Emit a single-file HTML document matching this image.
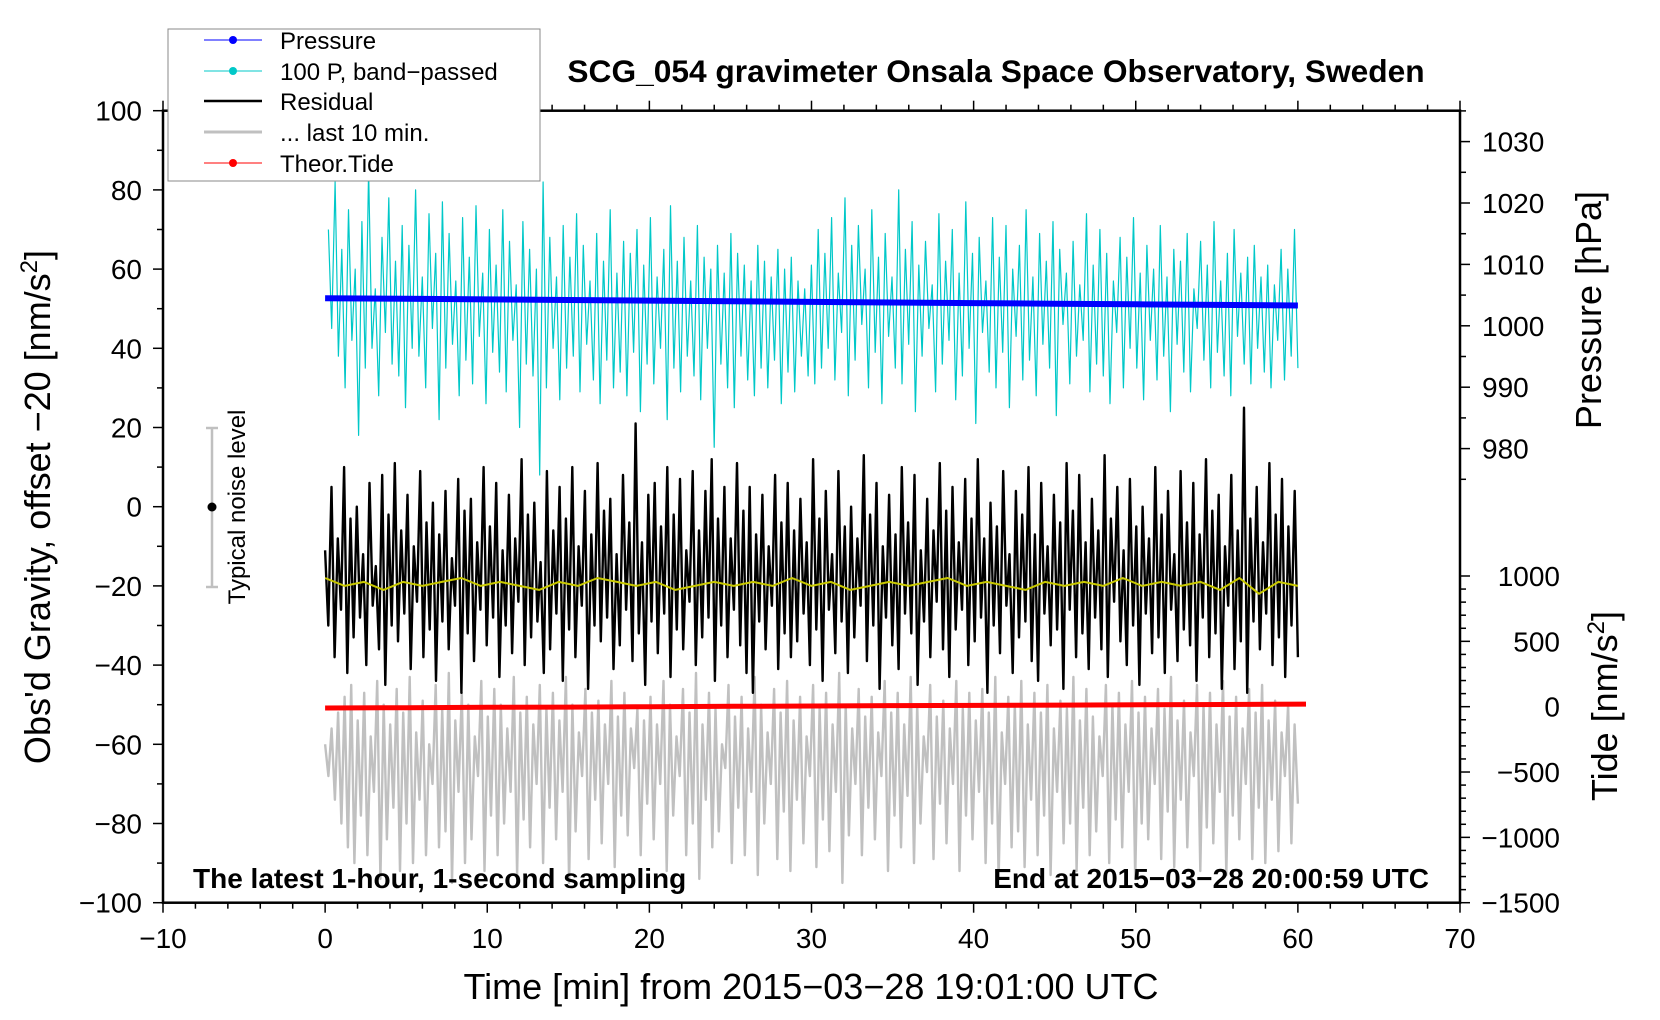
<!DOCTYPE html>
<html><head><meta charset="utf-8"><style>
body{margin:0;background:#fff;}
svg{display:block;font-family:"Liberation Sans",sans-serif;}
</style></head><body>
<svg id="chart" width="1660" height="1020" viewBox="0 0 1660 1020" xmlns="http://www.w3.org/2000/svg">
<g id="layer-gray"></g>
<g id="layer-cyan"></g>
<g id="layer-black"></g>
<g id="layer-yellow"></g>
<g id="layer-blue"></g>
<g id="layer-red"></g>
<g id="axes"></g>
<text x="996" y="82" font-size="31.7" font-weight="bold" text-anchor="middle">SCG_054 gravimeter Onsala Space Observatory, Sweden</text>
<text x="193" y="888" font-size="28" font-weight="bold">The latest 1-hour, 1-second sampling</text>
<text x="1429" y="888" font-size="28" font-weight="bold" text-anchor="end">End at 2015−03−28 20:00:59 UTC</text>
<text x="811" y="999" font-size="36" text-anchor="middle">Time [min] from 2015−03−28 19:01:00 UTC</text>
<text transform="translate(50,507) rotate(-90)" font-size="36" text-anchor="middle">Obs'd Gravity, offset −20 [nm/s<tspan font-size="24" dy="-13">2</tspan><tspan dy="13">]</tspan></text>
<text transform="translate(1601,310) rotate(-90)" font-size="36" text-anchor="middle">Pressure [hPa]</text>
<text transform="translate(1617,706) rotate(-90)" font-size="36" text-anchor="middle">Tide [nm/s<tspan font-size="24" dy="-13">2</tspan><tspan dy="13">]</tspan></text>
<g>
<line x1="212" y1="428" x2="212" y2="587" stroke="#c0c0c0" stroke-width="2.5"/>
<line x1="206" y1="428" x2="218" y2="428" stroke="#c0c0c0" stroke-width="2.5"/>
<line x1="206" y1="587" x2="218" y2="587" stroke="#c0c0c0" stroke-width="2.5"/>
<circle cx="212" cy="507" r="4.5" fill="#000"/>
<text transform="translate(245,507) rotate(-90)" font-size="24" text-anchor="middle">Typical noise level</text>
</g>
<g>
<rect x="168" y="29" width="372" height="152" fill="#fff" stroke="#888" stroke-width="1"/>
<g><line x1="204" y1="40" x2="262" y2="40" stroke="#0000ff" stroke-width="1"/><circle cx="233" cy="40" r="4" fill="#0000ff"/><text x="280" y="49" font-size="24">Pressure</text></g>
<g><line x1="204" y1="71" x2="262" y2="71" stroke="#00c8c8" stroke-width="1"/><circle cx="233" cy="71" r="4" fill="#00c8c8"/><text x="280" y="80" font-size="24">100 P, band−passed</text></g>
<g><line x1="204" y1="101" x2="262" y2="101" stroke="#000" stroke-width="2.5"/><text x="280" y="110" font-size="24">Residual</text></g>
<g><line x1="204" y1="132" x2="262" y2="132" stroke="#c0c0c0" stroke-width="3"/><text x="280" y="141" font-size="24">... last 10 min.</text></g>
<g><line x1="204" y1="163" x2="262" y2="163" stroke="#ff0000" stroke-width="1"/><circle cx="233" cy="163" r="4" fill="#ff0000"/><text x="280" y="172" font-size="24">Theor.Tide</text></g>
</g>
</svg>
<script>
const xTicks=[-10,0,10,20,30,40,50,60,70];
const gTicks=[100,80,60,40,20,0,-20,-40,-60,-80,-100];
const pTicks=[1030,1020,1010,1000,990,980];
const tTicks=[1000,500,0,-500,-1000,-1500];
const residual=[-11,-30,5,-38,-8,-26,10,-42,-3,-33,0,-28,-12,-40,6,-25,-15,-36,8,-45,-2,-30,11,-34,-6,-27,3,-41,-10,-24,9,-38,-4,-31,1,-44,-7,-29,4,-36,-13,-25,7,-47,-1,-32,2,-39,-9,-26,10,-35,-5,-28,6,-43,-11,-30,3,-37,-8,-24,12,-40,-2,-33,1,-29,-14,-42,9,-36,-6,-27,5,-44,-3,-31,10,-38,-10,-25,4,-46,-7,-30,11,-34,-1,-28,2,-41,-12,-35,8,-26,-4,-39,21,-32,-9,-45,3,-29,6,-37,-5,-27,10,-43,-2,-31,7,-36,-11,-24,9,-40,-6,-33,4,-28,12,-44,-3,-30,5,-38,-8,-26,11,-35,-1,-42,5,-47,-7,-29,3,-36,-10,-25,8,-41,-4,-32,6,-38,
-6,-34,2,-27,-9,-40,12,-31,-3,-44,4,-26,-12,-37,9,-29,-5,-42,0,-33,-8,-25,13,-39,-2,-30,6,-46,-10,-28,3,-35,-7,-41,10,-27,-4,-32,8,-45,-11,-29,2,-38,-6,-24,11,-36,-1,-43,5,-31,-9,-26,7,-40,-3,-34,12,-28,-8,-47,1,-30,-5,-37,9,-25,-12,-42,4,-33,-2,-29,10,-39,-7,-44,6,-27,-10,-35,3,-31,-4,-46,11,-26,-1,-38,8,-32,-9,-41,2,-28,-6,-36,13,-43,-3,-24,5,-34,-11,-40,7,-30,-5,-45,0,-27,-8,-37,10,-33,-2,-42,4,-26,-12,-39,9,-31,-4,-35,6,-44,-7,-28,12,-38,-1,-32,3,-46,-10,-25,8,-41,-6,-34,25,-47,-3,-29,5,-36,-9,-27,11,-40,-2,-33,7,-43,-5,-30,4,-38];
const smoothed=[-18,-20,-19,-21,-19,-20,-19,-18,-20,-19,-20,-21,-19,-20,-18,-19,-20,-19,-21,-20,-19,-20,-19,-20,-18,-20,-19,-21,-20,-19,-20,-19,-18,-20,-19,-20,-21,-19,-20,-19,-20,-18,-20,-19,-20,-19,-21,-18,-22,-19,-20];
const bandPassed=[70,45,82,38,65,30,75,42,60,18,72,35,85,40,55,28,68,44,78,36,62,33,71,25,66,40,80,38,58,30,74,45,64,22,77,35,69,41,57,28,73,37,63,31,76,43,59,26,70,39,61,34,75,29,67,42,56,20,72,36,65,33,60,8,82,30,68,40,58,27,71,35,63,38,74,29,66,41,57,32,69,26,62,37,75,30,59,34,67,28,64,39,70,24,61,36,73,31,58,40,65,22,76,35,62,29,68,38,57,33,71,27,63,40,60,15,66,36,59,30,69,25,64,38,61,32,57,28,66,35,62,30,58,37,65,26,60,34,63,29,57,38,55,33,61,31,70,35,
64,40,73,32,59,44,78,28,66,37,71,46,60,30,75,39,63,26,69,43,58,35,80,31,65,41,72,24,61,38,67,45,56,29,74,36,62,42,70,27,59,33,77,40,64,21,68,44,57,34,73,30,63,39,71,25,60,43,66,32,75,37,58,28,69,41,62,35,72,23,65,46,59,31,67,38,56,42,74,29,61,36,70,33,64,26,57,44,68,30,63,40,73,35,59,27,66,42,60,32,71,38,58,24,65,41,62,34,69,29,55,45,67,37,61,30,72,39,57,33,64,28,70,43,59,36,63,31,66,40,58,34,61,30,56,42,65,32,60,38,70,35];
const last10=[-60,-68,-56,-74,-52,-80,-48,-86,-45,-90,-54,-78,-47,-88,-58,-72,-44,-94,-50,-84,-55,-76,-46,-92,-52,-80,-43,-90,-57,-74,-49,-88,-60,-70,-45,-86,-51,-82,-42,-95,-54,-72,-47,-90,-50,-84,-58,-68,-44,-92,-53,-78,-46,-88,-50,-80,-56,-72,-43,-93,-52,-79,-48,-86,-55,-70,-45,-90,-51,-76,-47,-84,-54,-72,-43,-95,-50,-82,-57,-68,-46,-89,-52,-74,-49,-85,-55,-70,-44,-91,-53,-78,-47,-83,-56,-66,-51,-88,-54,-75,
-48,-84,-55,-70,-44,-92,-50,-78,-58,-68,-46,-88,-52,-80,-42,-94,-55,-74,-47,-86,-51,-82,-60,-66,-45,-90,-53,-76,-48,-88,-56,-72,-43,-93,-50,-80,-57,-70,-46,-89,-52,-77,-44,-92,-54,-74,-48,-85,-58,-68,-45,-91,-51,-79,-47,-87,-55,-72,-42,-95,-50,-83,-56,-70,-46,-88,-53,-76,-48,-84,-57,-68,-44,-92,-52,-78,-47,-86,-55,-73,-43,-90,-50,-80,-58,-67,-45,-89,-53,-75,-49,-85,-56,-70,-44,-92,-51,-78,-47,-84,
-54,-72,-46,-90,-52,-80,-43,-94,-57,-70,-48,-86,-50,-82,-44,-91,-55,-74,-47,-88,-52,-78,-45,-93,-56,-72,-49,-85,-51,-80,-43,-92,-54,-76,-46,-88,-53,-82,-58,-68,-45,-90,-50,-79,-47,-86,-55,-72,-44,-94,-52,-80,-48,-84,-56,-70,-46,-89,-51,-77,-43,-91,-54,-74,-49,-86,-57,-68,-45,-92,-50,-81,-47,-85,-55,-72,-44,-93,-53,-78,-48,-84,-56,-70,-46,-89,-52,-76,-45,-90,-54,-74,-49,-87,-57,-68,-50,-85,-55,-75];
const pressure=[1004.5,1004.4,1004.3,1004.2,1004.1,1004.0,1003.9,1003.8,1003.7,1003.6,1003.5,1003.4,1003.3];
const tide=[-10,-8,-5,-3,0,3,5,8,10,12,15,17,20];

const NS='http://www.w3.org/2000/svg';
const X0=163,X1=1460,YT=110.7,YB=902.7;
const xs=m=>X0+(m+10)/80*(X1-X0);
const yg=v=>YT+(100-v)/200*(YB-YT);
const yp=p=>141.6+(1030-p)/10*61.4;
const yt=t=>576+(1000-t)/2500*(YB-576);
function mk(tag,attrs,parent){const e=document.createElementNS(NS,tag);for(const k in attrs)e.setAttribute(k,attrs[k]);parent.appendChild(e);return e;}
function poly(arr,t0,t1,yf,parent,stroke,w){
  const pts=arr.map((v,i)=>xs(t0+(t1-t0)*i/(arr.length-1)).toFixed(1)+','+yf(v).toFixed(1)).join(' ');
  return mk('polyline',{points:pts,fill:'none',stroke:stroke,'stroke-width':w,'stroke-linejoin':'round'},parent);
}
const gGray=document.getElementById('layer-gray');
const l1=poly(last10,0,60,yg,gGray,'#c0c0c0',2.4);


const gC=document.getElementById('layer-cyan');
const l2=poly(bandPassed,0.2,60,yg,gC,'#00c8c8',1.2);


const gB=document.getElementById('layer-black');
const l3=poly(residual,0,60,yg,gB,'#000',2.4);


const gY=document.getElementById('layer-yellow');
const l4=poly(smoothed,0,60,yg,gY,'#c8c800',2);


const gP=document.getElementById('layer-blue');
const l5=poly(pressure,0,60,yp,gP,'#0000ff',6);


const gR=document.getElementById('layer-red');
const l6=poly(tide,0,60.5,yt,gR,'#ff0000',5);



const ax=document.getElementById('axes');
mk('rect',{x:X0,y:YT,width:X1-X0,height:YB-YT,fill:'none',stroke:'#000','stroke-width':2.5},ax);
for(let m=-10;m<=70;m+=2){const x=xs(m);const major=m%10===0;
  mk('line',{x1:x,y1:YB,x2:x,y2:YB+(major?10:6),stroke:'#000','stroke-width':1.5},ax);
  mk('line',{x1:x,y1:YT,x2:x,y2:YT-(major?10:6),stroke:'#000','stroke-width':1.5},ax);}
xTicks.forEach(m=>{const t=mk('text',{x:xs(m),y:948,'font-size':28,'text-anchor':'middle'},ax);t.textContent=String(m).replace('-','−');

});
for(let v=-100;v<=100;v+=10){const y=yg(v);mk('line',{x1:X0,y1:y,x2:X0-(v%20===0?10:6),y2:y,stroke:'#000','stroke-width':1.5},ax);}
gTicks.forEach(v=>{const t=mk('text',{x:142,y:yg(v)+10,'font-size':28,'text-anchor':'end'},ax);t.textContent=String(v).replace('-','−');

});
for(let p=975;p<=1035;p+=5){const y=yp(p);if(y<YT)continue;mk('line',{x1:X1,y1:y,x2:X1+(p%10===0?10:6),y2:y,stroke:'#000','stroke-width':1.5},ax);}
pTicks.forEach(p=>{const t=mk('text',{x:1482,y:yp(p)+10,'font-size':28},ax);t.textContent=p;

});
for(let v=-1500;v<=1000;v+=100){const y=yt(v);mk('line',{x1:X1,y1:y,x2:X1+(v%500===0?10:6),y2:y,stroke:'#000','stroke-width':1.5},ax);}
tTicks.forEach(v=>{const t=mk('text',{x:1560,y:yt(v)+10,'font-size':28,'text-anchor':'end'},ax);t.textContent=String(v).replace('-','−');

});
</script>
</body></html>
